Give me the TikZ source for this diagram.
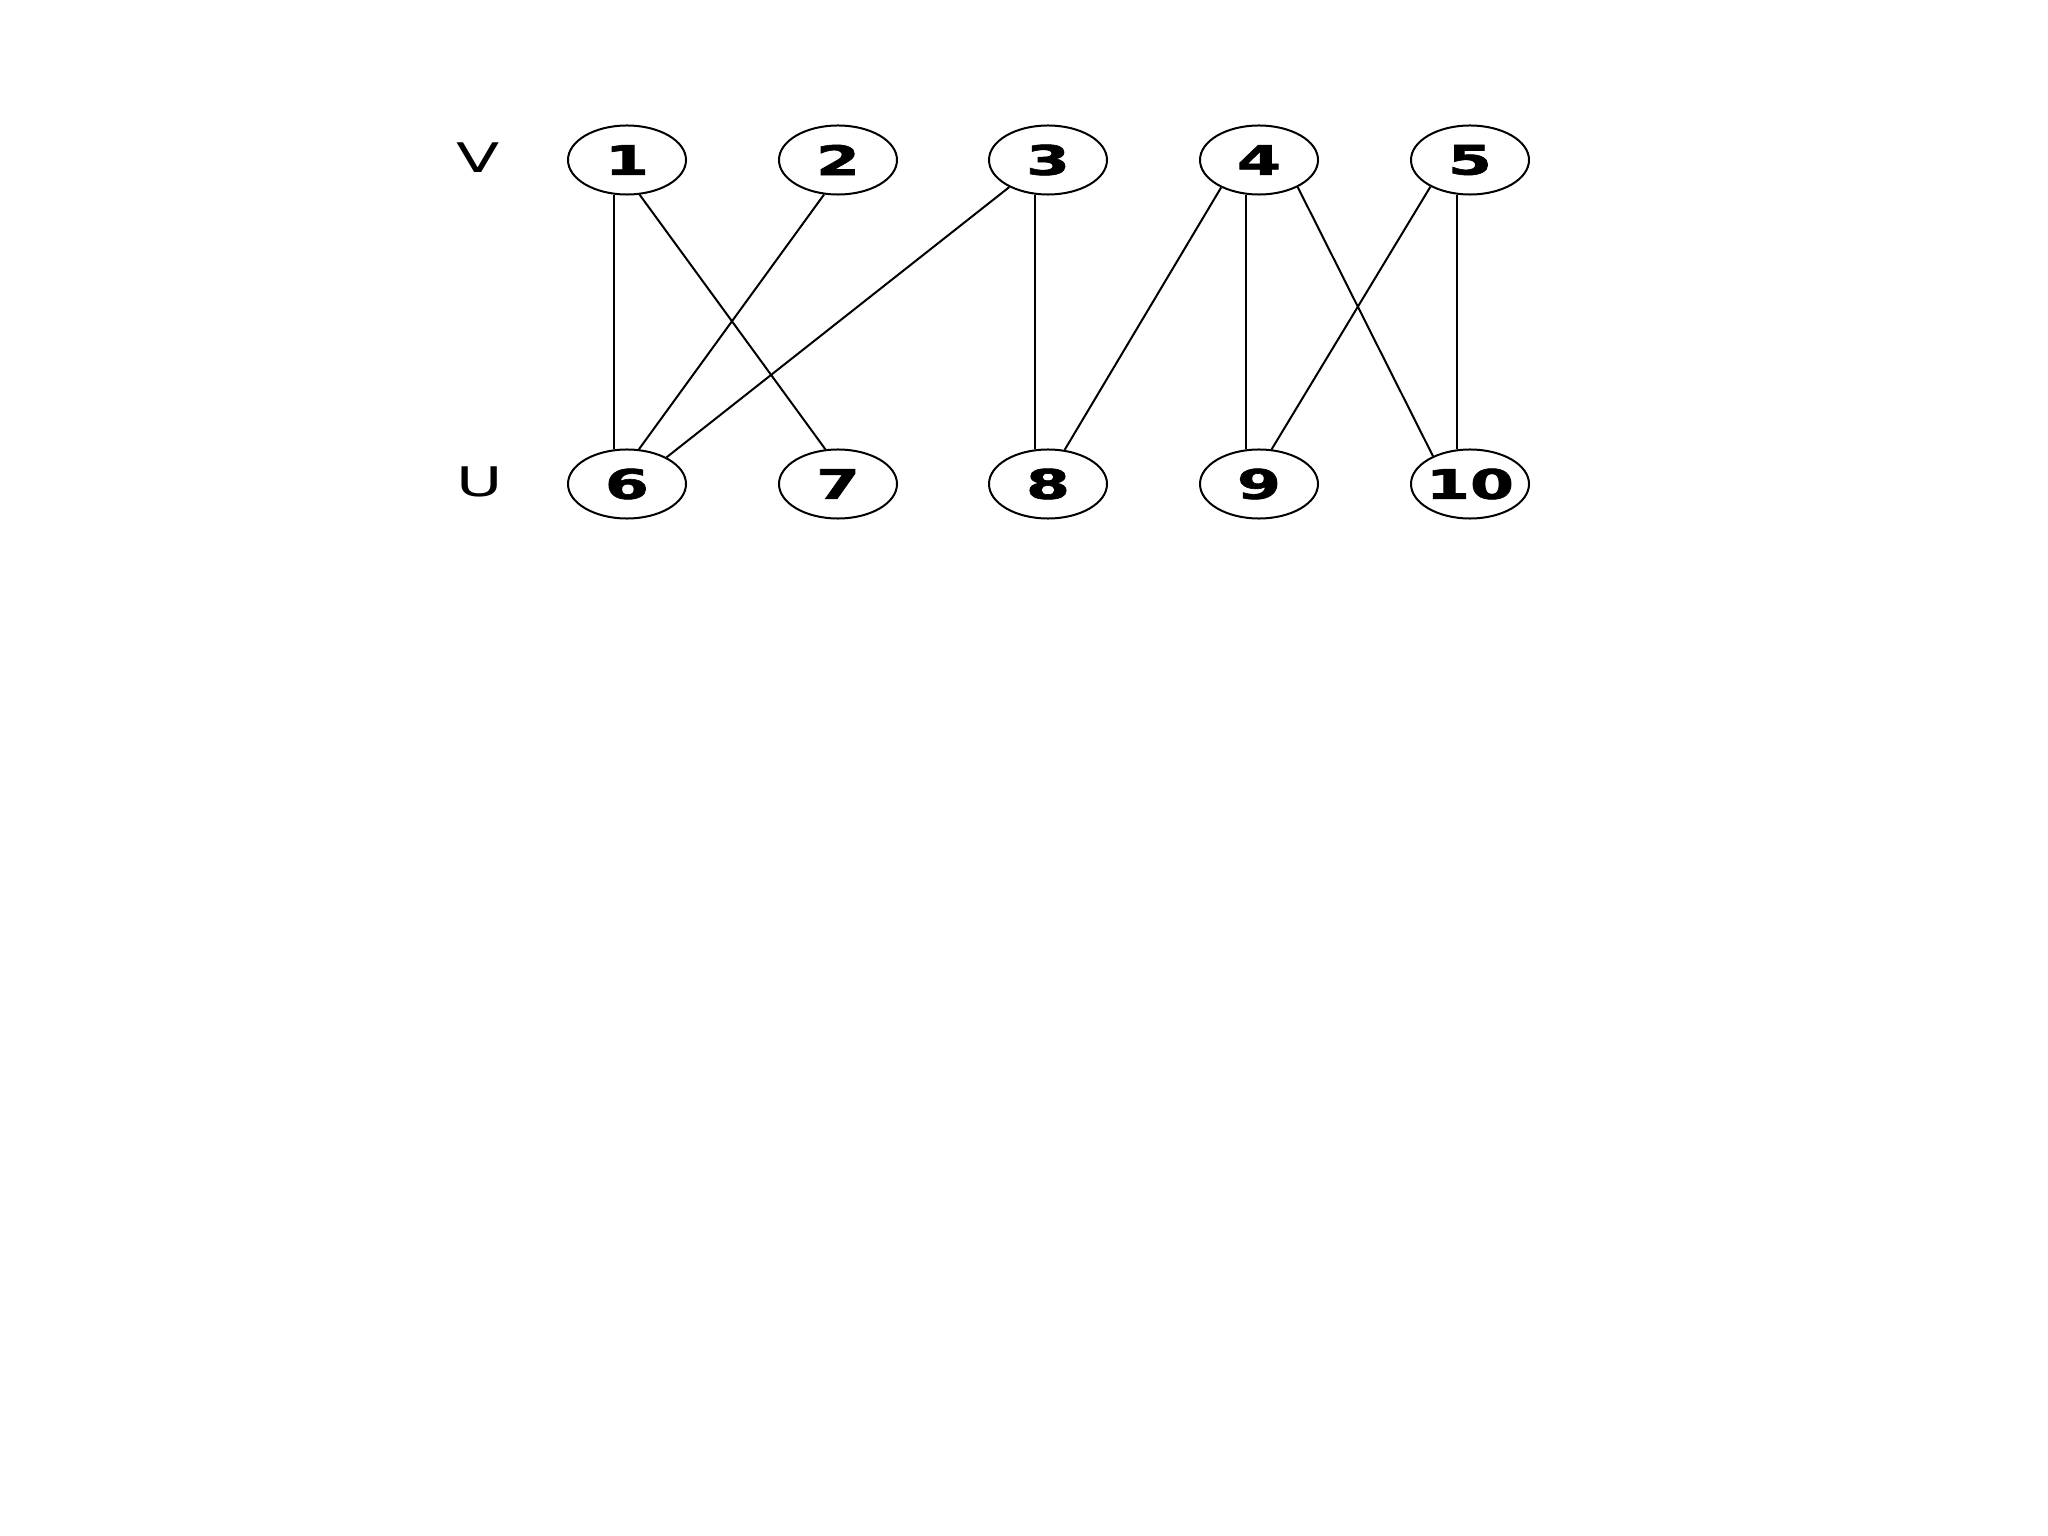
\documentclass[tikz,border=0pt]{standalone}
\usepackage{fontspec}
\setmainfont{DejaVu Sans}
\newfontfamily\digitfont[FakeBold=1.5]{DejaVu Sans Bold}
\usetikzlibrary{shapes.geometric}
\tikzset{
  vert/.style={draw, shape=ellipse, line width=0.5mm, minimum width=118*0.25mm, minimum height=69*0.25mm, inner sep=0pt},
  sidelabel/.style={inner sep=0pt},
  edge/.style={line width=0.5mm}
}
\newcommand{\vlab}[1]{\makebox[0pt]{\scalebox{1.55}[1]{\fontsize{29}{35}\digitfont #1}}}
\newcommand{\slab}[1]{\scalebox{1.55}[1]{\fontsize{29}{35}\selectfont #1}}
\begin{document}
\begin{tikzpicture}[x=0.025cm,y=-0.025cm]
\useasboundingbox (0,0) rectangle (2048,1536);
\node[sidelabel] (lv) at (478,158) {\slab{V}};
\node[sidelabel] (lu) at (480,482) {\slab{U}};
\node[vert] (n1) at (627,160) {\vlab{1}};
\node[vert] (n2) at (838,160) {\vlab{2}};
\node[vert] (n3) at (1048,160) {\vlab{3}};
\node[vert] (n4) at (1259,160) {\vlab{4}};
\node[vert] (n5) at (1470,160) {\vlab{5}};
\node[vert] (n6) at (627,484) {\vlab{6}};
\node[vert] (n7) at (838,484) {\vlab{7}};
\node[vert] (n8) at (1048,484) {\vlab{8}};
\node[vert] (n9) at (1259,484) {\vlab{9}};
\node[vert] (n10) at (1470,484) {\vlab{10}};
\draw[edge] (n1.250) -- (n6.110);
\draw[edge] (n1.290) -- (n7.110);
\draw[edge] (n2.248) -- (n6.71);
\draw[edge] (n3.215) -- (n6.34);
\draw[edge] (n3.250) -- (n8.110);
\draw[edge] (n4.216) -- (n8.64);
\draw[edge] (n4.250) -- (n9.110);
\draw[edge] (n4.325) -- (n10.143);
\draw[edge] (n5.214) -- (n9.70);
\draw[edge] (n5.250) -- (n10.110);
\end{tikzpicture}
\end{document}
